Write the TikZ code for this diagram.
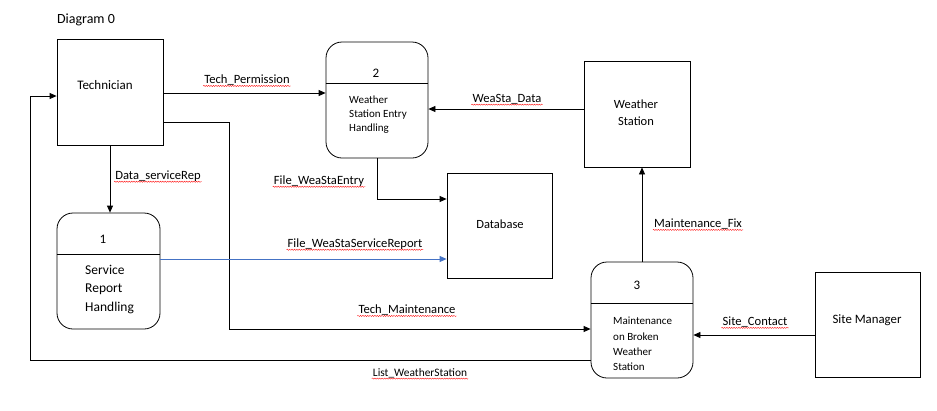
\documentclass[tikz,border=0pt]{standalone}
\usepackage{fontspec}
\setmainfont{Carlito}
\usetikzlibrary{arrows.meta,decorations.pathmorphing}
\definecolor{wordblue}{HTML}{4472C4}
\begin{document}
\begin{tikzpicture}[x=1pt,y=-1pt,
  box/.style={draw, line width=0.8pt, minimum width=106pt, minimum height=106pt, inner sep=0pt},
  proc/.style={draw, rounded corners=16pt, line width=0.8pt, minimum width=102pt, minimum height=116pt, inner sep=0pt},
  flow/.style={line width=0.8pt, -{Triangle[length=7pt,width=6pt]}},
  lbl/.style={font=\fontsize{12.6}{14}\selectfont, inner sep=1pt},
  big/.style={font=\fontsize{13}{15}\selectfont, inner sep=0pt},
  small/.style={font=\fontsize{11}{14}\selectfont, inner sep=0pt},
  spell/.style={red, line width=0.35pt, decorate, decoration={snake, amplitude=0.6pt, segment length=2.4pt}}
]
\useasboundingbox (0,0) rectangle (937,410);

% title
\node[font=\fontsize{14}{16}\selectfont, inner sep=0pt] (title) at (86,20) {Diagram 0};

% external entities and store
\node[box] (tech) at (110,92) {};
\node[big] (techtxt) at (105,85) {Technician};
\node[box] (ws) at (637,114) {};
\node[big, align=center, font=\fontsize{12.5}{17}\selectfont] (wstxt) at (636,112.5) {Weather\\Station};
\node[box, minimum width=105pt, minimum height=105pt] (db) at (499.5,225.5) {};
\node[big, font=\fontsize{12.5}{15}\selectfont] (dbtxt) at (500,224) {Database};
\node[box, minimum width=105pt, minimum height=105pt] (sm) at (867.5,324.5) {};
\node[big, font=\fontsize{12.8}{15}\selectfont] (smtxt) at (867,320) {Site Manager};

% processes
\node[proc, minimum width=103pt] (p1) at (108.5,271) {};
\draw[line width=0.8pt] (p1.west |- 0,254) -- (p1.east |- 0,254);
\node[big] (p1n) at (103,239) {1};
\node[big, align=left, font=\fontsize{13.5}{18.5}\selectfont, anchor=west] (p1txt) at (85,289.5) {Service\\Report\\Handling};

\node[proc] (p2) at (377,100) {};
\draw[line width=0.8pt] (p2.west |- 0,83) -- (p2.east |- 0,83);
\node[big] (p2n) at (376,73) {2};
\node[small, align=left, anchor=west] (p2txt) at (349,115) {Weather\\Station Entry\\Handling};

\node[proc] (p3) at (642,320) {};
\draw[line width=0.8pt] (p3.west |- 0,303) -- (p3.east |- 0,303);
\node[big] (p3n) at (637,285) {3};
\node[small, align=left, anchor=west, font=\fontsize{11}{15.3}\selectfont] (p3txt) at (613,344) {Maintenance\\on Broken\\Weather\\Station};

% flows
\draw[flow] (tech.east |- 0,93) -- (p2.west |- 0,93);
\draw[flow] (tech.east |- 0,122) -- (229,122) -- (229,329) -- (p3.west |- 0,329);
\draw[flow] (p3.west |- 0,360) -- (30,360) -- (30,96) -- (tech.west |- 0,96);
\draw[flow] (tech.south) -- (tech.south |- p1.north);
\draw[flow] (ws.west |- 0,109) -- (p2.east |- 0,109);
\draw[flow] (p2.south) |- (db.west |- 0,199);
\draw[flow, wordblue] (p1.east |- 0,259) -- (db.west |- 0,259);
\draw[flow] (p3.north) -- (p3.north |- ws.south);
\draw[flow] (sm.west |- 0,335) -- (p3.east |- 0,335);

% flow labels
\node[lbl] (l1) at (247,80) {Tech\_Permission};
\node[lbl] (l2) at (158,176) {Data\_serviceRep};
\node[lbl] (l3) at (319,181) {File\_WeaStaEntry};
\node[lbl] (l4) at (507,99) {WeaSta\_Data};
\node[lbl] (l5) at (355,244) {File\_WeaStaServiceReport};
\node[lbl] (l6) at (407,310) {Tech\_Maintenance};
\node[lbl, font=\fontsize{11.4}{13}\selectfont] (l7) at (420,373) {List\_WeatherStation};
\node[lbl] (l8) at (698,224) {Maintenance\_Fix};
\node[lbl] (l9) at (755,322) {Site\_Contact};

\foreach \n in {l1,l2,l3,l4,l5,l6,l7,l8,l9}{
  \draw[spell] ([yshift=-2.4pt]\n.base west) -- ([yshift=-2.4pt]\n.base east);
}
\end{tikzpicture}
\end{document}
